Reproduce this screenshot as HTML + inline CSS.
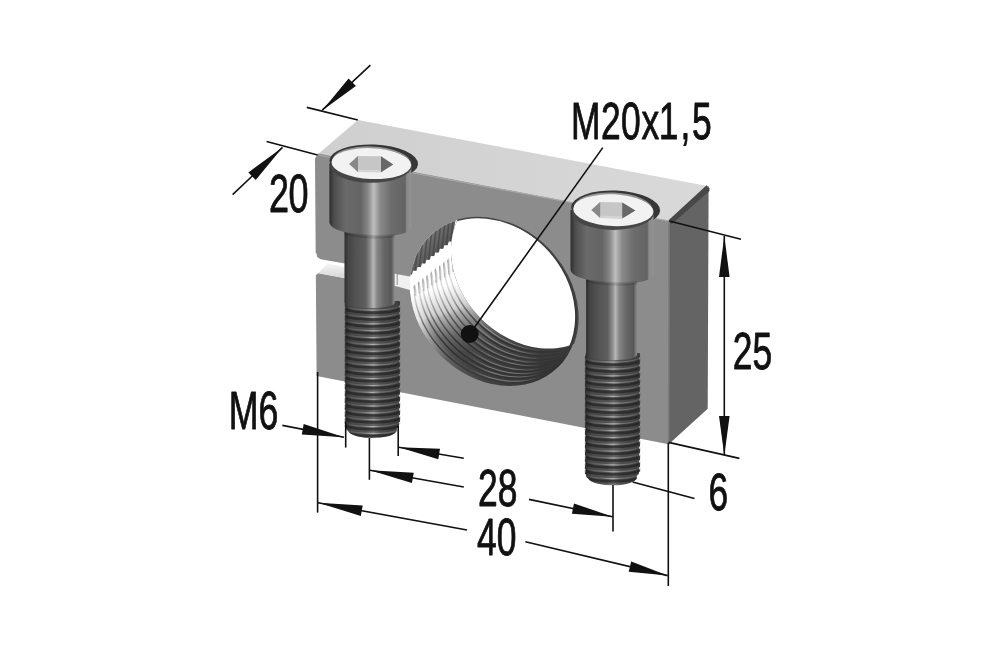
<!DOCTYPE html>
<html><head><meta charset="utf-8"><title>M20x1,5</title>
<style>
html,body{margin:0;padding:0;background:#fff;}
svg{display:block;}
text{font-family:"Liberation Sans",sans-serif;fill:#111;}
</style></head><body>
<svg width="1000" height="653" viewBox="0 0 1000 653">
<rect width="1000" height="653" fill="#fff"/>
<defs>
<linearGradient id="gHead" x1="0" x2="1" y1="0" y2="0">
 <stop offset="0" stop-color="#2e2e2e"/><stop offset="0.06" stop-color="#4e4e4e"/>
 <stop offset="0.2" stop-color="#6a6a6a"/><stop offset="0.38" stop-color="#646464"/>
 <stop offset="0.47" stop-color="#868686"/><stop offset="0.54" stop-color="#bebebe"/>
 <stop offset="0.62" stop-color="#8a8a8a"/><stop offset="0.76" stop-color="#6c6c6c"/>
 <stop offset="0.925" stop-color="#646464"/><stop offset="0.945" stop-color="#8a8a8a"/>
 <stop offset="1" stop-color="#929292"/>
</linearGradient>
<linearGradient id="gShank" x1="0" x2="1" y1="0" y2="0">
 <stop offset="0" stop-color="#2c2c2c"/><stop offset="0.07" stop-color="#444"/>
 <stop offset="0.25" stop-color="#545454"/><stop offset="0.42" stop-color="#5e5e5e"/>
 <stop offset="0.51" stop-color="#8a8a8a"/><stop offset="0.575" stop-color="#b6b6b6"/>
 <stop offset="0.65" stop-color="#868686"/><stop offset="0.78" stop-color="#686868"/>
 <stop offset="0.93" stop-color="#585858"/><stop offset="0.97" stop-color="#777"/><stop offset="1" stop-color="#8a8a8a"/>
</linearGradient>
<linearGradient id="gThread" x1="0" x2="1" y1="0" y2="0">
 <stop offset="0" stop-color="#303030"/><stop offset="0.12" stop-color="#484848"/>
 <stop offset="0.4" stop-color="#525252"/><stop offset="0.52" stop-color="#666"/>
 <stop offset="0.66" stop-color="#4e4e4e"/><stop offset="1" stop-color="#3c3c3c"/>
</linearGradient>
<linearGradient id="gThL" x1="0" x2="1" y1="0" y2="0">
 <stop offset="0" stop-color="#fff" stop-opacity="0.05"/><stop offset="0.3" stop-color="#fff" stop-opacity="0.18"/>
 <stop offset="0.5" stop-color="#fff" stop-opacity="0.5"/><stop offset="0.64" stop-color="#fff" stop-opacity="0.25"/>
 <stop offset="1" stop-color="#fff" stop-opacity="0.12"/>
</linearGradient>
<linearGradient id="gTop" x1="0" x2="1" y1="0" y2="0">
 <stop offset="0" stop-color="#cfcfcf"/><stop offset="1" stop-color="#d9d9d9"/>
</linearGradient>
<linearGradient id="gHole" gradientUnits="userSpaceOnUse" x1="415" y1="295.3" x2="449.5" y2="404.5">
 <stop offset="0" stop-color="#fff"/><stop offset="0.06" stop-color="#f2f2f2"/><stop offset="0.21" stop-color="#d0d0d0"/>
 <stop offset="0.265" stop-color="#adadad"/><stop offset="0.34" stop-color="#8c8c8c"/><stop offset="0.43" stop-color="#6a6a6a"/>
 <stop offset="0.52" stop-color="#565656"/><stop offset="0.6" stop-color="#484848"/><stop offset="0.75" stop-color="#3e3e3e"/><stop offset="1" stop-color="#353535"/>
</linearGradient>
<linearGradient id="gHoleTop" gradientUnits="userSpaceOnUse" x1="420" y1="234" x2="440" y2="252">
 <stop offset="0" stop-color="#8c8c8c"/><stop offset="0.5" stop-color="#6a6a6a"/><stop offset="1" stop-color="#555"/>
</linearGradient>
</defs>

<polygon points="317,155 358,120 708.6,186.2 669,221" fill="url(#gTop)"/>
<polygon points="669,221 708.6,186.2 707.7,408.8 668.7,444.3" fill="#646464"/>
<polygon points="315.0,158.5 318.2,153.6 669,221 668.7,444.3 316.6,375.9" fill="#8c8c8c"/>
<polygon points="668.3,220.6 706.6,185.2 709.5,188.6 709.5,191 671.6,224.2" fill="#484848"/>
<line x1="669" y1="221" x2="668.7" y2="444.3" stroke="#7c7c7c" stroke-width="1.6"/>
<line x1="318" y1="155" x2="669" y2="221" stroke="#a8a8a8" stroke-width="1.2"/>
<linearGradient id="gStrip" x1="0" x2="0" y1="0" y2="1"><stop offset="0" stop-color="#f6f6f6"/><stop offset="1" stop-color="#d6d6d6"/></linearGradient>
<polygon points="313,253.2 316.4,253.2 317.2,257 320.6,259.3 345,263.6 345,278.2 318.2,273.2 316.6,274.8 313,274.8" fill="#fff"/>
<polygon points="327.8,263.4 345,267 345,277.9 318.2,273" fill="url(#gStrip)"/>
<polygon points="394,273.4 397.4,274.2 414,277.2 417,292 397.4,286.6 394,286" fill="#f0f0f0"/>
<line x1="397.2" y1="274" x2="397.2" y2="285" stroke="#555" stroke-width="0.9" stroke-opacity="0.7"/>
<clipPath id="cFront"><path d="M558.17,367.11 A91.70,75.66 45.50 1 0 429.63,236.29 A91.70,75.66 45.50 1 0 558.17,367.11 Z"/></clipPath>
<clipPath id="cBack"><path d="M596.34,330.00 A89.87,74.15 45.50 1 0 470.36,201.80 A89.87,74.15 45.50 1 0 596.34,330.00 Z"/></clipPath>
<filter id="blur3" x="-20%" y="-20%" width="140%" height="140%"><feGaussianBlur stdDeviation="2.6"/></filter>
<filter id="blur1" x="-20%" y="-20%" width="140%" height="140%"><feGaussianBlur stdDeviation="0.6"/></filter>
<linearGradient id="gRim" gradientUnits="userSpaceOnUse" x1="410" y1="300" x2="560" y2="390">
<stop offset="0" stop-color="#fff" stop-opacity="0.3"/><stop offset="0.1" stop-color="#fff" stop-opacity="0.5"/><stop offset="0.2" stop-color="#fff" stop-opacity="0.32"/><stop offset="0.36" stop-color="#fff" stop-opacity="0.14"/><stop offset="0.6" stop-color="#fff" stop-opacity="0.05"/><stop offset="1" stop-color="#fff" stop-opacity="0.0"/></linearGradient>
<linearGradient id="gLnL" gradientUnits="userSpaceOnUse" x1="448" y1="0" x2="578" y2="0">
<stop offset="0.15" stop-color="#fff" stop-opacity="0"/><stop offset="0.32" stop-color="#fff" stop-opacity="0.32"/><stop offset="0.52" stop-color="#fff" stop-opacity="0.3"/><stop offset="0.72" stop-color="#fff" stop-opacity="0"/></linearGradient>
<linearGradient id="gLnD" gradientUnits="userSpaceOnUse" x1="415" y1="295.3" x2="449.5" y2="404.5">
<stop offset="0" stop-color="#888" stop-opacity="0.3"/><stop offset="0.1" stop-color="#666" stop-opacity="0.42"/><stop offset="0.25" stop-color="#333" stop-opacity="0.62"/><stop offset="0.5" stop-color="#1a1a1a" stop-opacity="0.65"/><stop offset="0.72" stop-color="#111" stop-opacity="0.3"/><stop offset="0.86" stop-color="#111" stop-opacity="0.16"/><stop offset="1" stop-color="#111" stop-opacity="0.14"/></linearGradient>
<g clip-path="url(#cFront)">
<rect x="400" y="205" width="200" height="190" fill="url(#gHole)"/>
<path d="M558.17,367.11 A91.70,75.66 45.50 1 0 429.63,236.29 A91.70,75.66 45.50 1 0 558.17,367.11 Z" fill="none" stroke="url(#gRim)" stroke-width="12" filter="url(#blur3)"/>
<path d="M561.99,363.39 A91.52,75.51 45.50 1 0 433.70,232.85 A91.52,75.51 45.50 1 0 561.99,363.39 Z" fill="none" stroke="url(#gLnD)" stroke-width="1.5"/>
<path d="M563.39,361.89 A91.52,75.51 45.50 1 0 435.10,231.35 A91.52,75.51 45.50 1 0 563.39,361.89 Z" fill="none" stroke="url(#gLnL)" stroke-width="1.1"/>
<path d="M565.81,359.68 A91.33,75.36 45.50 1 0 437.77,229.40 A91.33,75.36 45.50 1 0 565.81,359.68 Z" fill="none" stroke="url(#gLnD)" stroke-width="1.5"/>
<path d="M567.21,358.18 A91.33,75.36 45.50 1 0 439.17,227.90 A91.33,75.36 45.50 1 0 567.21,358.18 Z" fill="none" stroke="url(#gLnL)" stroke-width="1.1"/>
<path d="M569.62,355.97 A91.15,75.21 45.50 1 0 441.85,225.95 A91.15,75.21 45.50 1 0 569.62,355.97 Z" fill="none" stroke="url(#gLnD)" stroke-width="1.5"/>
<path d="M571.02,354.47 A91.15,75.21 45.50 1 0 443.25,224.45 A91.15,75.21 45.50 1 0 571.02,354.47 Z" fill="none" stroke="url(#gLnL)" stroke-width="1.1"/>
<path d="M573.44,352.26 A90.97,75.05 45.50 1 0 445.92,222.50 A90.97,75.05 45.50 1 0 573.44,352.26 Z" fill="none" stroke="url(#gLnD)" stroke-width="1.5"/>
<path d="M574.84,350.76 A90.97,75.05 45.50 1 0 447.32,221.00 A90.97,75.05 45.50 1 0 574.84,350.76 Z" fill="none" stroke="url(#gLnL)" stroke-width="1.1"/>
<path d="M577.26,348.55 A90.78,74.90 45.50 1 0 449.99,219.05 A90.78,74.90 45.50 1 0 577.26,348.55 Z" fill="none" stroke="url(#gLnD)" stroke-width="1.5"/>
<path d="M578.66,347.05 A90.78,74.90 45.50 1 0 451.39,217.55 A90.78,74.90 45.50 1 0 578.66,347.05 Z" fill="none" stroke="url(#gLnL)" stroke-width="1.1"/>
<path d="M581.07,344.84 A90.60,74.75 45.50 1 0 454.07,215.60 A90.60,74.75 45.50 1 0 581.07,344.84 Z" fill="none" stroke="url(#gLnD)" stroke-width="1.5"/>
<path d="M582.47,343.34 A90.60,74.75 45.50 1 0 455.47,214.10 A90.60,74.75 45.50 1 0 582.47,343.34 Z" fill="none" stroke="url(#gLnL)" stroke-width="1.1"/>
<path d="M584.89,341.13 A90.42,74.60 45.50 1 0 458.14,212.15 A90.42,74.60 45.50 1 0 584.89,341.13 Z" fill="none" stroke="url(#gLnD)" stroke-width="1.5"/>
<path d="M586.29,339.63 A90.42,74.60 45.50 1 0 459.54,210.65 A90.42,74.60 45.50 1 0 586.29,339.63 Z" fill="none" stroke="url(#gLnL)" stroke-width="1.1"/>
<path d="M588.71,337.42 A90.23,74.45 45.50 1 0 462.21,208.70 A90.23,74.45 45.50 1 0 588.71,337.42 Z" fill="none" stroke="url(#gLnD)" stroke-width="1.5"/>
<path d="M590.11,335.92 A90.23,74.45 45.50 1 0 463.61,207.20 A90.23,74.45 45.50 1 0 590.11,335.92 Z" fill="none" stroke="url(#gLnL)" stroke-width="1.1"/>
<path d="M592.52,333.71 A90.05,74.30 45.50 1 0 466.29,205.25 A90.05,74.30 45.50 1 0 592.52,333.71 Z" fill="none" stroke="url(#gLnD)" stroke-width="1.5"/>
<path d="M593.92,332.21 A90.05,74.30 45.50 1 0 467.69,203.75 A90.05,74.30 45.50 1 0 593.92,332.21 Z" fill="none" stroke="url(#gLnL)" stroke-width="1.1"/>
<polygon points="458,218 458,263 417,294 407,294 407,274" fill="#fff"/>
<linearGradient id="gTooth" x1="0" x2="1" y1="0" y2="0"><stop offset="0" stop-color="#808080" stop-opacity="0.9"/><stop offset="0.45" stop-color="#b0b0b0" stop-opacity="0.6"/><stop offset="1" stop-color="#fff" stop-opacity="0"/></linearGradient>
<polygon points="413.6,286.5 414.8,284.0 418.0,294.0 417.2,297.0 414.6,296.0" fill="url(#gTooth)"/>
<polygon points="417.8,283.3 419.0,280.8 422.2,291.3 421.4,294.3 418.8,293.3" fill="url(#gTooth)"/>
<polygon points="422.0,280.0 423.2,277.5 426.4,288.6 425.6,291.6 423.0,290.6" fill="url(#gTooth)"/>
<polygon points="426.2,276.8 427.4,274.3 430.6,285.9 429.8,288.9 427.2,287.9" fill="url(#gTooth)"/>
<polygon points="430.4,273.5 431.6,271.0 434.8,283.2 434.0,286.2 431.4,285.2" fill="url(#gTooth)"/>
<polygon points="434.7,270.3 435.9,267.8 439.1,280.6 438.3,283.6 435.7,282.6" fill="url(#gTooth)"/>
<polygon points="438.9,267.0 440.1,264.5 443.3,277.9 442.5,280.9 439.9,279.9" fill="url(#gTooth)"/>
<polygon points="443.1,263.8 444.3,261.3 447.5,275.2 446.7,278.2 444.1,277.2" fill="url(#gTooth)"/>
<polygon points="447.3,260.5 448.5,258.0 451.7,272.5 450.9,275.5 448.3,274.5" fill="url(#gTooth)"/>
<polygon points="451.5,257.3 452.7,254.8 455.9,269.8 455.1,272.8 452.5,271.8" fill="url(#gTooth)"/>
<polygon points="400.0,200.0 475.0,200.0 455.8,219.3 451.4,241.5 448.8,241.5 447.7,245.2 446.9,245.2 444.3,245.2 443.3,248.8 442.5,248.8 439.9,248.8 438.8,252.5 438.0,252.5 435.4,252.5 434.3,256.1 433.5,256.1 430.9,256.1 429.9,259.8 429.1,259.8 426.5,259.8 425.4,263.4 424.6,263.4 422.0,263.4 420.9,267.1 420.1,267.1 417.5,267.1 416.5,270.7 415.7,270.7 413.1,270.7 412.0,274.4 411.2,274.4 400.0,275.6" fill="url(#gHoleTop)"/>
<line x1="450.8" y1="241.5" x2="453.8" y2="215.5" stroke="#3a3a3a" stroke-opacity="0.55" stroke-width="1.6"/>
<line x1="446.3" y1="245.2" x2="449.3" y2="219.2" stroke="#3a3a3a" stroke-opacity="0.55" stroke-width="1.6"/>
<line x1="441.9" y1="248.8" x2="444.9" y2="222.8" stroke="#3a3a3a" stroke-opacity="0.55" stroke-width="1.6"/>
<line x1="437.4" y1="252.5" x2="440.4" y2="226.5" stroke="#3a3a3a" stroke-opacity="0.55" stroke-width="1.6"/>
<line x1="432.9" y1="256.1" x2="435.9" y2="230.1" stroke="#3a3a3a" stroke-opacity="0.55" stroke-width="1.6"/>
<line x1="428.5" y1="259.8" x2="431.5" y2="233.8" stroke="#3a3a3a" stroke-opacity="0.55" stroke-width="1.6"/>
<line x1="424.0" y1="263.4" x2="427.0" y2="237.4" stroke="#3a3a3a" stroke-opacity="0.55" stroke-width="1.6"/>
<line x1="419.5" y1="267.1" x2="422.5" y2="241.1" stroke="#3a3a3a" stroke-opacity="0.55" stroke-width="1.6"/>
<line x1="415.1" y1="270.7" x2="418.1" y2="244.7" stroke="#3a3a3a" stroke-opacity="0.55" stroke-width="1.6"/>
<line x1="410.6" y1="274.4" x2="413.6" y2="248.4" stroke="#3a3a3a" stroke-opacity="0.55" stroke-width="1.6"/>
<g clip-path="url(#cBack)"><rect x="440" y="200" width="150" height="160" fill="#383838"/><path d="M558.17,367.11 A91.70,75.66 45.50 1 0 429.63,236.29 A91.70,75.66 45.50 1 0 558.17,367.11 Z" transform="translate(-2.7,-0.9)" fill="#fff"/></g>
</g>
<g clip-path="url(#cBack)"><path d="M558.17,367.11 A91.70,75.66 45.50 1 0 429.63,236.29 A91.70,75.66 45.50 1 0 558.17,367.11 Z" fill="none" stroke="#444" stroke-width="1.6"/></g>
<ellipse cx="373.7" cy="162.2" rx="44.3" ry="17.8" transform="rotate(2.4 371.4 163.6)" fill="#363636"/>
<ellipse cx="371.4" cy="162.0" rx="39.3" ry="15.6" transform="rotate(2.4 371.4 163.6)" fill="#949494"/>
<path d="M345.5,301 L345.5,426.5 Q345.5,429.5 348.0,431.1 A24.3,8.0 0 0 0 396.7,428.6 Q399.2,427.0 399.2,424.0 L399.2,301 Z" fill="url(#gThread)"/>
<clipPath id="cTa"><path d="M344.5,297 L344.5,426.5 L345.5,426.5 Q345.5,429.5 348.0,431.1 A24.3,8.0 0 0 0 396.7,428.6 Q399.2,427.0 399.2,424.0 L400.2,424.0 L400.2,297 Z"/></clipPath>
<g clip-path="url(#cTa)" fill="none">
<path d="M344.5,308.8 A27.849999999999994,4.9 0 0 0 400.2,306.6" stroke="#161616" stroke-opacity="0.55" stroke-width="2.6"/>
<path d="M345.5,306.2 A26.849999999999994,4.9 0 0 0 399.2,304.0" stroke="url(#gThL)" stroke-width="1.2"/>
<ellipse cx="345.3" cy="305.6" rx="0.9" ry="2.2" fill="#333"/><ellipse cx="399.4" cy="303.4" rx="0.9" ry="2.2" fill="#3a3a3a"/>
<path d="M344.5,315.7 A27.849999999999994,4.9 0 0 0 400.2,313.4" stroke="#161616" stroke-opacity="0.55" stroke-width="2.6"/>
<path d="M345.5,313.1 A26.849999999999994,4.9 0 0 0 399.2,310.9" stroke="url(#gThL)" stroke-width="1.2"/>
<ellipse cx="345.3" cy="312.4" rx="0.9" ry="2.2" fill="#333"/><ellipse cx="399.4" cy="310.2" rx="0.9" ry="2.2" fill="#3a3a3a"/>
<path d="M344.5,322.5 A27.849999999999994,4.9 0 0 0 400.2,320.3" stroke="#161616" stroke-opacity="0.55" stroke-width="2.6"/>
<path d="M345.5,319.9 A26.849999999999994,4.9 0 0 0 399.2,317.7" stroke="url(#gThL)" stroke-width="1.2"/>
<ellipse cx="345.3" cy="319.3" rx="0.9" ry="2.2" fill="#333"/><ellipse cx="399.4" cy="317.1" rx="0.9" ry="2.2" fill="#3a3a3a"/>
<path d="M344.5,329.4 A27.849999999999994,4.9 0 0 0 400.2,327.2" stroke="#161616" stroke-opacity="0.55" stroke-width="2.6"/>
<path d="M345.5,326.8 A26.849999999999994,4.9 0 0 0 399.2,324.6" stroke="url(#gThL)" stroke-width="1.2"/>
<ellipse cx="345.3" cy="326.2" rx="0.9" ry="2.2" fill="#333"/><ellipse cx="399.4" cy="324.0" rx="0.9" ry="2.2" fill="#3a3a3a"/>
<path d="M344.5,336.2 A27.849999999999994,4.9 0 0 0 400.2,334.0" stroke="#161616" stroke-opacity="0.55" stroke-width="2.6"/>
<path d="M345.5,333.6 A26.849999999999994,4.9 0 0 0 399.2,331.4" stroke="url(#gThL)" stroke-width="1.2"/>
<ellipse cx="345.3" cy="333.0" rx="0.9" ry="2.2" fill="#333"/><ellipse cx="399.4" cy="330.8" rx="0.9" ry="2.2" fill="#3a3a3a"/>
<path d="M344.5,343.1 A27.849999999999994,4.9 0 0 0 400.2,340.9" stroke="#161616" stroke-opacity="0.55" stroke-width="2.6"/>
<path d="M345.5,340.5 A26.849999999999994,4.9 0 0 0 399.2,338.3" stroke="url(#gThL)" stroke-width="1.2"/>
<ellipse cx="345.3" cy="339.9" rx="0.9" ry="2.2" fill="#333"/><ellipse cx="399.4" cy="337.7" rx="0.9" ry="2.2" fill="#3a3a3a"/>
<path d="M344.5,349.9 A27.849999999999994,4.9 0 0 0 400.2,347.7" stroke="#161616" stroke-opacity="0.55" stroke-width="2.6"/>
<path d="M345.5,347.3 A26.849999999999994,4.9 0 0 0 399.2,345.1" stroke="url(#gThL)" stroke-width="1.2"/>
<ellipse cx="345.3" cy="346.7" rx="0.9" ry="2.2" fill="#333"/><ellipse cx="399.4" cy="344.5" rx="0.9" ry="2.2" fill="#3a3a3a"/>
<path d="M344.5,356.8 A27.849999999999994,4.9 0 0 0 400.2,354.6" stroke="#161616" stroke-opacity="0.55" stroke-width="2.6"/>
<path d="M345.5,354.2 A26.849999999999994,4.9 0 0 0 399.2,352.0" stroke="url(#gThL)" stroke-width="1.2"/>
<ellipse cx="345.3" cy="353.6" rx="0.9" ry="2.2" fill="#333"/><ellipse cx="399.4" cy="351.4" rx="0.9" ry="2.2" fill="#3a3a3a"/>
<path d="M344.5,363.6 A27.849999999999994,4.9 0 0 0 400.2,361.4" stroke="#161616" stroke-opacity="0.55" stroke-width="2.6"/>
<path d="M345.5,361.0 A26.849999999999994,4.9 0 0 0 399.2,358.8" stroke="url(#gThL)" stroke-width="1.2"/>
<ellipse cx="345.3" cy="360.4" rx="0.9" ry="2.2" fill="#333"/><ellipse cx="399.4" cy="358.2" rx="0.9" ry="2.2" fill="#3a3a3a"/>
<path d="M344.5,370.5 A27.849999999999994,4.9 0 0 0 400.2,368.3" stroke="#161616" stroke-opacity="0.55" stroke-width="2.6"/>
<path d="M345.5,367.9 A26.849999999999994,4.9 0 0 0 399.2,365.7" stroke="url(#gThL)" stroke-width="1.2"/>
<ellipse cx="345.3" cy="367.3" rx="0.9" ry="2.2" fill="#333"/><ellipse cx="399.4" cy="365.1" rx="0.9" ry="2.2" fill="#3a3a3a"/>
<path d="M344.5,377.3 A27.849999999999994,4.9 0 0 0 400.2,375.1" stroke="#161616" stroke-opacity="0.55" stroke-width="2.6"/>
<path d="M345.5,374.7 A26.849999999999994,4.9 0 0 0 399.2,372.5" stroke="url(#gThL)" stroke-width="1.2"/>
<ellipse cx="345.3" cy="374.1" rx="0.9" ry="2.2" fill="#333"/><ellipse cx="399.4" cy="371.9" rx="0.9" ry="2.2" fill="#3a3a3a"/>
<path d="M344.5,384.2 A27.849999999999994,4.9 0 0 0 400.2,382.0" stroke="#161616" stroke-opacity="0.55" stroke-width="2.6"/>
<path d="M345.5,381.6 A26.849999999999994,4.9 0 0 0 399.2,379.4" stroke="url(#gThL)" stroke-width="1.2"/>
<ellipse cx="345.3" cy="381.0" rx="0.9" ry="2.2" fill="#333"/><ellipse cx="399.4" cy="378.8" rx="0.9" ry="2.2" fill="#3a3a3a"/>
<path d="M344.5,391.0 A27.849999999999994,4.9 0 0 0 400.2,388.8" stroke="#161616" stroke-opacity="0.55" stroke-width="2.6"/>
<path d="M345.5,388.4 A26.849999999999994,4.9 0 0 0 399.2,386.2" stroke="url(#gThL)" stroke-width="1.2"/>
<ellipse cx="345.3" cy="387.8" rx="0.9" ry="2.2" fill="#333"/><ellipse cx="399.4" cy="385.6" rx="0.9" ry="2.2" fill="#3a3a3a"/>
<path d="M344.5,397.9 A27.849999999999994,4.9 0 0 0 400.2,395.7" stroke="#161616" stroke-opacity="0.55" stroke-width="2.6"/>
<path d="M345.5,395.3 A26.849999999999994,4.9 0 0 0 399.2,393.1" stroke="url(#gThL)" stroke-width="1.2"/>
<ellipse cx="345.3" cy="394.7" rx="0.9" ry="2.2" fill="#333"/><ellipse cx="399.4" cy="392.5" rx="0.9" ry="2.2" fill="#3a3a3a"/>
<path d="M344.5,404.7 A27.849999999999994,4.9 0 0 0 400.2,402.5" stroke="#161616" stroke-opacity="0.55" stroke-width="2.6"/>
<path d="M345.5,402.1 A26.849999999999994,4.9 0 0 0 399.2,399.9" stroke="url(#gThL)" stroke-width="1.2"/>
<ellipse cx="345.3" cy="401.5" rx="0.9" ry="2.2" fill="#333"/><ellipse cx="399.4" cy="399.3" rx="0.9" ry="2.2" fill="#3a3a3a"/>
<path d="M344.5,411.6 A27.849999999999994,4.9 0 0 0 400.2,409.4" stroke="#161616" stroke-opacity="0.55" stroke-width="2.6"/>
<path d="M345.5,409.0 A26.849999999999994,4.9 0 0 0 399.2,406.8" stroke="url(#gThL)" stroke-width="1.2"/>
<ellipse cx="345.3" cy="408.4" rx="0.9" ry="2.2" fill="#333"/><ellipse cx="399.4" cy="406.2" rx="0.9" ry="2.2" fill="#3a3a3a"/>
<path d="M344.5,418.4 A27.849999999999994,4.9 0 0 0 400.2,416.2" stroke="#161616" stroke-opacity="0.55" stroke-width="2.6"/>
<path d="M345.5,415.8 A26.849999999999994,4.9 0 0 0 399.2,413.6" stroke="url(#gThL)" stroke-width="1.2"/>
<ellipse cx="345.3" cy="415.2" rx="0.9" ry="2.2" fill="#333"/><ellipse cx="399.4" cy="413.0" rx="0.9" ry="2.2" fill="#3a3a3a"/>
<path d="M344.5,425.3 A27.849999999999994,4.9 0 0 0 400.2,423.1" stroke="#161616" stroke-opacity="0.55" stroke-width="2.6"/>
<path d="M345.5,422.7 A26.849999999999994,4.9 0 0 0 399.2,420.5" stroke="url(#gThL)" stroke-width="1.2"/>
<ellipse cx="345.3" cy="422.1" rx="0.9" ry="2.2" fill="#333"/><ellipse cx="399.4" cy="419.9" rx="0.9" ry="2.2" fill="#3a3a3a"/>
<path d="M344.5,432.1 A27.849999999999994,4.9 0 0 0 400.2,429.9" stroke="#161616" stroke-opacity="0.55" stroke-width="2.6"/>
<path d="M345.5,429.5 A26.849999999999994,4.9 0 0 0 399.2,427.3" stroke="url(#gThL)" stroke-width="1.2"/>
<ellipse cx="345.3" cy="428.9" rx="0.9" ry="2.2" fill="#333"/><ellipse cx="399.4" cy="426.7" rx="0.9" ry="2.2" fill="#3a3a3a"/>
<path d="M344.5,439.0 A27.849999999999994,4.9 0 0 0 400.2,436.8" stroke="#161616" stroke-opacity="0.55" stroke-width="2.6"/>
<path d="M345.5,436.4 A26.849999999999994,4.9 0 0 0 399.2,434.2" stroke="url(#gThL)" stroke-width="1.2"/>
<ellipse cx="345.3" cy="435.8" rx="0.9" ry="2.2" fill="#333"/><ellipse cx="399.4" cy="433.6" rx="0.9" ry="2.2" fill="#3a3a3a"/>
</g>
<path d="M344.5,222.2 L344.5,303 A25.1,5.1 0 0 0 394.70000000000005,303 L394.70000000000005,222.2 Z" fill="url(#gShank)"/>
<path d="M329.40000000000003,163.4 L329.40000000000003,222.2 C330.40000000000003,237.6 410.3,242.1 411.3,226.7 L411.3,163.4 Z" fill="url(#gHead)"/>
<path d="M344.5,231.8 Q369.6,236.8 394.70000000000005,233.8 L394.70000000000005,237.3 Q369.6,240.8 344.5,235.3 Z" fill="#000" fill-opacity="0.13"/>
<ellipse cx="371.09999999999997" cy="165.9" rx="40.9" ry="16.9" fill="#464646"/>
<ellipse cx="371.4" cy="163.6" rx="39.9" ry="15.4" transform="rotate(2.4 371.4 163.6)" fill="#f2f2f2"/>
<polygon points="349.2,163.9 358,155.9 381,156.3 393.2,164.5 381,172.3 358,171.9" fill="#c6c6c6"/>
<polygon points="349.2,163.9 358,155.9 358,171.9" fill="#888"/>
<polygon points="393.2,164.5 381,156.3 381,172.3" fill="#686868"/>
<polygon points="358,169.70000000000002 381,170.1 381,172.3 358,171.9" fill="#d4d4d4"/>
<ellipse cx="615.5999999999999" cy="208.79999999999998" rx="44.5" ry="18.3" transform="rotate(2.4 613.3 210.2)" fill="#363636"/>
<ellipse cx="613.3" cy="208.6" rx="39.5" ry="16.1" transform="rotate(2.4 613.3 210.2)" fill="#949494"/>
<path d="M585.7,353 L585.7,473.90000000000003 Q585.7,476.90000000000003 588.2,478.50000000000006 A24.2,8.0 0 0 0 636.7,476.00000000000006 Q639.2,474.40000000000003 639.2,471.40000000000003 L639.2,353 Z" fill="url(#gThread)"/>
<clipPath id="cTb"><path d="M584.7,349 L584.7,473.90000000000003 L585.7,473.90000000000003 Q585.7,476.90000000000003 588.2,478.50000000000006 A24.2,8.0 0 0 0 636.7,476.00000000000006 Q639.2,474.40000000000003 639.2,471.40000000000003 L640.2,471.40000000000003 L640.2,349 Z"/></clipPath>
<g clip-path="url(#cTb)" fill="none">
<path d="M584.7,360.8 A27.75,4.9 0 0 0 640.2,358.6" stroke="#161616" stroke-opacity="0.55" stroke-width="2.6"/>
<path d="M585.7,358.2 A26.75,4.9 0 0 0 639.2,356.0" stroke="url(#gThL)" stroke-width="1.2"/>
<ellipse cx="585.5" cy="357.6" rx="0.9" ry="2.2" fill="#333"/><ellipse cx="639.4000000000001" cy="355.4" rx="0.9" ry="2.2" fill="#3a3a3a"/>
<path d="M584.7,367.7 A27.75,4.9 0 0 0 640.2,365.4" stroke="#161616" stroke-opacity="0.55" stroke-width="2.6"/>
<path d="M585.7,365.1 A26.75,4.9 0 0 0 639.2,362.9" stroke="url(#gThL)" stroke-width="1.2"/>
<ellipse cx="585.5" cy="364.4" rx="0.9" ry="2.2" fill="#333"/><ellipse cx="639.4000000000001" cy="362.2" rx="0.9" ry="2.2" fill="#3a3a3a"/>
<path d="M584.7,374.5 A27.75,4.9 0 0 0 640.2,372.3" stroke="#161616" stroke-opacity="0.55" stroke-width="2.6"/>
<path d="M585.7,371.9 A26.75,4.9 0 0 0 639.2,369.7" stroke="url(#gThL)" stroke-width="1.2"/>
<ellipse cx="585.5" cy="371.3" rx="0.9" ry="2.2" fill="#333"/><ellipse cx="639.4000000000001" cy="369.1" rx="0.9" ry="2.2" fill="#3a3a3a"/>
<path d="M584.7,381.4 A27.75,4.9 0 0 0 640.2,379.2" stroke="#161616" stroke-opacity="0.55" stroke-width="2.6"/>
<path d="M585.7,378.8 A26.75,4.9 0 0 0 639.2,376.6" stroke="url(#gThL)" stroke-width="1.2"/>
<ellipse cx="585.5" cy="378.2" rx="0.9" ry="2.2" fill="#333"/><ellipse cx="639.4000000000001" cy="376.0" rx="0.9" ry="2.2" fill="#3a3a3a"/>
<path d="M584.7,388.2 A27.75,4.9 0 0 0 640.2,386.0" stroke="#161616" stroke-opacity="0.55" stroke-width="2.6"/>
<path d="M585.7,385.6 A26.75,4.9 0 0 0 639.2,383.4" stroke="url(#gThL)" stroke-width="1.2"/>
<ellipse cx="585.5" cy="385.0" rx="0.9" ry="2.2" fill="#333"/><ellipse cx="639.4000000000001" cy="382.8" rx="0.9" ry="2.2" fill="#3a3a3a"/>
<path d="M584.7,395.1 A27.75,4.9 0 0 0 640.2,392.9" stroke="#161616" stroke-opacity="0.55" stroke-width="2.6"/>
<path d="M585.7,392.5 A26.75,4.9 0 0 0 639.2,390.3" stroke="url(#gThL)" stroke-width="1.2"/>
<ellipse cx="585.5" cy="391.9" rx="0.9" ry="2.2" fill="#333"/><ellipse cx="639.4000000000001" cy="389.7" rx="0.9" ry="2.2" fill="#3a3a3a"/>
<path d="M584.7,401.9 A27.75,4.9 0 0 0 640.2,399.7" stroke="#161616" stroke-opacity="0.55" stroke-width="2.6"/>
<path d="M585.7,399.3 A26.75,4.9 0 0 0 639.2,397.1" stroke="url(#gThL)" stroke-width="1.2"/>
<ellipse cx="585.5" cy="398.7" rx="0.9" ry="2.2" fill="#333"/><ellipse cx="639.4000000000001" cy="396.5" rx="0.9" ry="2.2" fill="#3a3a3a"/>
<path d="M584.7,408.8 A27.75,4.9 0 0 0 640.2,406.6" stroke="#161616" stroke-opacity="0.55" stroke-width="2.6"/>
<path d="M585.7,406.2 A26.75,4.9 0 0 0 639.2,404.0" stroke="url(#gThL)" stroke-width="1.2"/>
<ellipse cx="585.5" cy="405.6" rx="0.9" ry="2.2" fill="#333"/><ellipse cx="639.4000000000001" cy="403.4" rx="0.9" ry="2.2" fill="#3a3a3a"/>
<path d="M584.7,415.6 A27.75,4.9 0 0 0 640.2,413.4" stroke="#161616" stroke-opacity="0.55" stroke-width="2.6"/>
<path d="M585.7,413.0 A26.75,4.9 0 0 0 639.2,410.8" stroke="url(#gThL)" stroke-width="1.2"/>
<ellipse cx="585.5" cy="412.4" rx="0.9" ry="2.2" fill="#333"/><ellipse cx="639.4000000000001" cy="410.2" rx="0.9" ry="2.2" fill="#3a3a3a"/>
<path d="M584.7,422.5 A27.75,4.9 0 0 0 640.2,420.3" stroke="#161616" stroke-opacity="0.55" stroke-width="2.6"/>
<path d="M585.7,419.9 A26.75,4.9 0 0 0 639.2,417.7" stroke="url(#gThL)" stroke-width="1.2"/>
<ellipse cx="585.5" cy="419.3" rx="0.9" ry="2.2" fill="#333"/><ellipse cx="639.4000000000001" cy="417.1" rx="0.9" ry="2.2" fill="#3a3a3a"/>
<path d="M584.7,429.3 A27.75,4.9 0 0 0 640.2,427.1" stroke="#161616" stroke-opacity="0.55" stroke-width="2.6"/>
<path d="M585.7,426.7 A26.75,4.9 0 0 0 639.2,424.5" stroke="url(#gThL)" stroke-width="1.2"/>
<ellipse cx="585.5" cy="426.1" rx="0.9" ry="2.2" fill="#333"/><ellipse cx="639.4000000000001" cy="423.9" rx="0.9" ry="2.2" fill="#3a3a3a"/>
<path d="M584.7,436.2 A27.75,4.9 0 0 0 640.2,434.0" stroke="#161616" stroke-opacity="0.55" stroke-width="2.6"/>
<path d="M585.7,433.6 A26.75,4.9 0 0 0 639.2,431.4" stroke="url(#gThL)" stroke-width="1.2"/>
<ellipse cx="585.5" cy="433.0" rx="0.9" ry="2.2" fill="#333"/><ellipse cx="639.4000000000001" cy="430.8" rx="0.9" ry="2.2" fill="#3a3a3a"/>
<path d="M584.7,443.0 A27.75,4.9 0 0 0 640.2,440.8" stroke="#161616" stroke-opacity="0.55" stroke-width="2.6"/>
<path d="M585.7,440.4 A26.75,4.9 0 0 0 639.2,438.2" stroke="url(#gThL)" stroke-width="1.2"/>
<ellipse cx="585.5" cy="439.8" rx="0.9" ry="2.2" fill="#333"/><ellipse cx="639.4000000000001" cy="437.6" rx="0.9" ry="2.2" fill="#3a3a3a"/>
<path d="M584.7,449.9 A27.75,4.9 0 0 0 640.2,447.7" stroke="#161616" stroke-opacity="0.55" stroke-width="2.6"/>
<path d="M585.7,447.3 A26.75,4.9 0 0 0 639.2,445.1" stroke="url(#gThL)" stroke-width="1.2"/>
<ellipse cx="585.5" cy="446.7" rx="0.9" ry="2.2" fill="#333"/><ellipse cx="639.4000000000001" cy="444.5" rx="0.9" ry="2.2" fill="#3a3a3a"/>
<path d="M584.7,456.7 A27.75,4.9 0 0 0 640.2,454.5" stroke="#161616" stroke-opacity="0.55" stroke-width="2.6"/>
<path d="M585.7,454.1 A26.75,4.9 0 0 0 639.2,451.9" stroke="url(#gThL)" stroke-width="1.2"/>
<ellipse cx="585.5" cy="453.5" rx="0.9" ry="2.2" fill="#333"/><ellipse cx="639.4000000000001" cy="451.3" rx="0.9" ry="2.2" fill="#3a3a3a"/>
<path d="M584.7,463.6 A27.75,4.9 0 0 0 640.2,461.4" stroke="#161616" stroke-opacity="0.55" stroke-width="2.6"/>
<path d="M585.7,461.0 A26.75,4.9 0 0 0 639.2,458.8" stroke="url(#gThL)" stroke-width="1.2"/>
<ellipse cx="585.5" cy="460.4" rx="0.9" ry="2.2" fill="#333"/><ellipse cx="639.4000000000001" cy="458.2" rx="0.9" ry="2.2" fill="#3a3a3a"/>
<path d="M584.7,470.4 A27.75,4.9 0 0 0 640.2,468.2" stroke="#161616" stroke-opacity="0.55" stroke-width="2.6"/>
<path d="M585.7,467.8 A26.75,4.9 0 0 0 639.2,465.6" stroke="url(#gThL)" stroke-width="1.2"/>
<ellipse cx="585.5" cy="467.2" rx="0.9" ry="2.2" fill="#333"/><ellipse cx="639.4000000000001" cy="465.0" rx="0.9" ry="2.2" fill="#3a3a3a"/>
<path d="M584.7,477.3 A27.75,4.9 0 0 0 640.2,475.1" stroke="#161616" stroke-opacity="0.55" stroke-width="2.6"/>
<path d="M585.7,474.7 A26.75,4.9 0 0 0 639.2,472.5" stroke="url(#gThL)" stroke-width="1.2"/>
<ellipse cx="585.5" cy="474.1" rx="0.9" ry="2.2" fill="#333"/><ellipse cx="639.4000000000001" cy="471.9" rx="0.9" ry="2.2" fill="#3a3a3a"/>
<path d="M584.7,484.1 A27.75,4.9 0 0 0 640.2,481.9" stroke="#161616" stroke-opacity="0.55" stroke-width="2.6"/>
<path d="M585.7,481.5 A26.75,4.9 0 0 0 639.2,479.3" stroke="url(#gThL)" stroke-width="1.2"/>
<ellipse cx="585.5" cy="480.9" rx="0.9" ry="2.2" fill="#333"/><ellipse cx="639.4000000000001" cy="478.7" rx="0.9" ry="2.2" fill="#3a3a3a"/>
<path d="M584.7,491.0 A27.75,4.9 0 0 0 640.2,488.8" stroke="#161616" stroke-opacity="0.55" stroke-width="2.6"/>
<path d="M585.7,488.4 A26.75,4.9 0 0 0 639.2,486.2" stroke="url(#gThL)" stroke-width="1.2"/>
<ellipse cx="585.5" cy="487.8" rx="0.9" ry="2.2" fill="#333"/><ellipse cx="639.4000000000001" cy="485.6" rx="0.9" ry="2.2" fill="#3a3a3a"/>
</g>
<path d="M586.1,269.4 L586.1,355 A25.5,5.2 0 0 0 637.1,355 L637.1,269.4 Z" fill="url(#gShank)"/>
<path d="M570.5,210.0 L570.5,269.4 C571.5,284.8 652.5,289.3 653.5,273.9 L653.5,210.0 Z" fill="url(#gHead)"/>
<path d="M586.1,279.0 Q611.6,284.0 637.1,281.0 L637.1,284.5 Q611.6,288.0 586.1,282.5 Z" fill="#000" fill-opacity="0.13"/>
<ellipse cx="613.0" cy="212.5" rx="41.1" ry="17.4" fill="#464646"/>
<ellipse cx="613.3" cy="210.2" rx="40.1" ry="15.9" transform="rotate(2.4 613.3 210.2)" fill="#f2f2f2"/>
<polygon points="591.4,210.0 600.2,202.0 622.2,202.4 635.4,210.6 622.2,218.4 600.2,218.0" fill="#c6c6c6"/>
<polygon points="591.4,210.0 600.2,202.0 600.2,218.0" fill="#888"/>
<polygon points="635.4,210.6 622.2,202.4 622.2,218.4" fill="#686868"/>
<polygon points="600.2,215.8 622.2,216.2 622.2,218.4 600.2,218.0" fill="#d4d4d4"/>
<g stroke="#111" stroke-width="1.6" fill="none" stroke-linecap="butt">
<line x1="306.8" y1="107.4" x2="357.8" y2="120"/>
<line x1="266.6" y1="141.4" x2="317.6" y2="155"/>
<line x1="370.4" y1="65.2" x2="322.2" y2="110.2"/>
<line x1="232.6" y1="194.7" x2="282.5" y2="147.4"/>
<line x1="602.8" y1="147.6" x2="469.7" y2="334"/>
<line x1="669.3" y1="220.9" x2="741" y2="239.3"/>
<line x1="724.3" y1="236" x2="724.3" y2="455"/>
<line x1="668.6" y1="442.4" x2="739.4" y2="458.4"/>
<line x1="317.6" y1="372" x2="317.6" y2="512.6"/>
<line x1="345.7" y1="422" x2="345.7" y2="447.6"/>
<line x1="369.4" y1="438" x2="369.4" y2="479.8"/>
<line x1="398.2" y1="426" x2="398.2" y2="456"/>
<line x1="282.4" y1="425.4" x2="344" y2="437.2"/>
<line x1="398.7" y1="447.3" x2="463.8" y2="458.2"/>
<line x1="370" y1="470.2" x2="463.8" y2="487"/>
<line x1="318" y1="502.7" x2="467" y2="530"/>
<line x1="529" y1="499.4" x2="612.6" y2="516.8"/>
<line x1="613" y1="485" x2="613" y2="531.4"/>
<line x1="525.4" y1="541.8" x2="667.7" y2="575.6"/>
<line x1="668.3" y1="443" x2="668.3" y2="586"/>
<line x1="632.6" y1="482" x2="694.5" y2="498.6"/>
</g>
<polygon points="322.2,110.4 355.9,86.1 348.6,78.4" fill="#111"/>
<polygon points="282.5,147.4 248.4,172.4 255.7,180.1" fill="#111"/>
<polygon points="724.3,236.0 719.0,277.0 729.6,277.0" fill="#111"/>
<polygon points="724.3,455.7 729.6,416.1 719.0,416.1" fill="#111"/>
<polygon points="344.0,437.2 303.7,424.1 301.8,434.5" fill="#111"/>
<polygon points="398.7,447.3 438.3,459.3 440.0,448.8" fill="#111"/>
<polygon points="370.0,470.2 411.9,483.1 413.8,472.7" fill="#111"/>
<polygon points="318.0,502.7 360.8,515.9 362.7,505.5" fill="#111"/>
<polygon points="612.6,516.8 574.0,503.4 571.9,513.7" fill="#111"/>
<polygon points="667.7,575.6 631.2,561.5 628.7,571.8" fill="#111"/>
<circle cx="469.7" cy="334" r="9" fill="#111"/>
<g opacity="0.999">
<text transform="translate(269,211.9) scale(0.675,1)" font-size="53.3" dx="0 -0.8" stroke="#111" stroke-width="0.9" stroke-linejoin="round">20</text>
<text transform="translate(571,138.8) scale(0.675,1)" font-size="52.5" dx="0 0.7 0.5 1.2 -0.6 3.0 2.4" stroke="#111" stroke-width="0.9" stroke-linejoin="round">M20x1,5</text>
<text transform="translate(732.8,369) scale(0.675,1)" font-size="52.5" stroke="#111" stroke-width="0.9" stroke-linejoin="round">25</text>
<text transform="translate(228.7,429.3) scale(0.675,1)" font-size="53" stroke="#111" stroke-width="0.9" stroke-linejoin="round">M6</text>
<text transform="translate(478,506.4) scale(0.675,1)" font-size="52.5" stroke="#111" stroke-width="0.9" stroke-linejoin="round">28</text>
<text transform="translate(477,554.8) scale(0.675,1)" font-size="52.5" stroke="#111" stroke-width="0.9" stroke-linejoin="round">40</text>
<text transform="translate(708.5,509.6) scale(0.675,1)" font-size="52.5" stroke="#111" stroke-width="0.9" stroke-linejoin="round">6</text>
</g>
</svg></body></html>
